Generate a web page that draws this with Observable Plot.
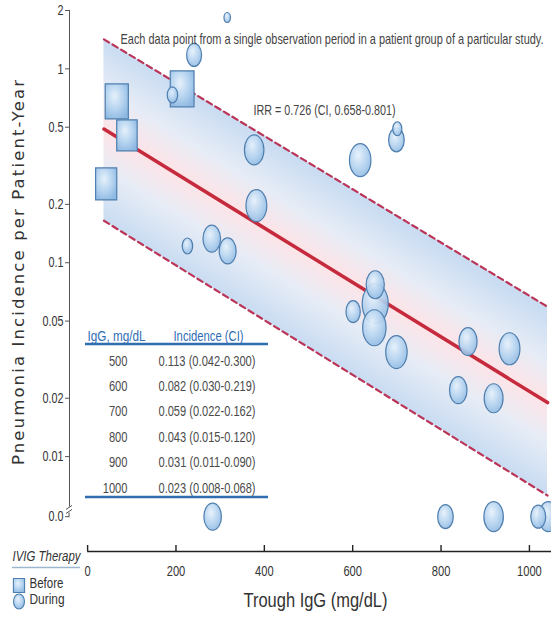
<!DOCTYPE html>
<html><head><meta charset="utf-8">
<script src="https://cdn.jsdelivr.net/npm/d3@7"></script>
<script src="https://cdn.jsdelivr.net/npm/@observablehq/plot@0.6"></script>
<style>
html,body{margin:0;padding:0;background:#fff;}
#chart{width:551px;height:622px;}
</style></head><body><div id="chart"></div>
<script>
// ---------------- data ----------------
// IVIG therapy: Before (squares)
const beforeIgG  = [66, 89, 42, 214];
const beforeRate = [0.68, 0.454, 0.255, 0.789];
const beforeSize = [35, 31, 32, 36];

// IVIG therapy: During (circles); rate 0 = no pneumonia observed
const duringIgG  = [316, 241, 192, 377, 382, 226, 281, 317, 617, 699, 701, 651, 651, 601, 649, 699, 861, 955, 839, 919, 283, 810, 919, 1043, 1020];
const duringRate = [1.84, 1.18, 0.734, 0.382, 0.197, 0.122, 0.133, 0.115, 0.338, 0.43, 0.491, 0.0615, 0.077, 0.0559, 0.0462, 0.0346, 0.0392, 0.036, 0.022, 0.02, 0, 0, 0, 0, 0];
const duringSize = [10, 23, 16, 30, 32, 16, 27, 26, 33, 24, 14, 40, 28, 22, 36, 33, 28, 32, 27, 29, 27, 24, 30, 30, 23];

// regression line with prediction band (ends)
const fitIgG   = [37, 1041];
const fitRate  = [0.489, 0.019];
const fitLower = [0.1646, 0.0063];
const fitUpper = [1.42, 0.0593];

// table
const tableIgG = ["500", "600", "700", "800", "900", "1000"];
const tableIncidence = ["0.113 (0.042-0.300)", "0.082 (0.030-0.219)", "0.059 (0.022-0.162)",
  "0.043 (0.015-0.120)", "0.031 (0.011-0.090)", "0.023 (0.008-0.068)"];

// axes
const xTicks = [0, 200, 400, 600, 800, 1000];
const yTicks = [2, 1, 0.5, 0.2, 0.1, 0.05, 0.02, 0.01, 0.0049];
const ZERO = 0.0049;      // plotting level for "0.0"
const xDomain = [-41, 1050];
const yDomain = [0.00324, 2];
const yBreak = 0.0055;

const annotText = "Each data point from a single observation period in a patient group of a particular study.";
const irrText = "IRR = 0.726 (CI, 0.658-0.801)";
const xTitle = "Trough IgG (mg/dL)";
const yTitle = "Pneumonia Incidence per Patient-Year";
// --------------------------------------

const yv = r => r === 0 ? ZERO : r;
const before = beforeIgG.map((x, i) => ({igg: x, rate: yv(beforeRate[i]), r: beforeSize[i] / 2}));
const during = duringIgG.map((x, i) => ({igg: x, rate: yv(duringRate[i]), r: duringSize[i] / 2}));
const fit = fitIgG.map((x, i) => ({igg: x, fit: fitRate[i], lo: fitLower[i], hi: fitUpper[i]}));

function ellipse(ratio) {
  return {draw(ctx, size) {
    const ry = Math.sqrt(size / Math.PI), rx = ry * ratio, k = 0.5523;
    ctx.moveTo(rx, 0);
    ctx.bezierCurveTo(rx, k * ry, k * rx, ry, 0, ry);
    ctx.bezierCurveTo(-k * rx, ry, -rx, k * ry, -rx, 0);
    ctx.bezierCurveTo(-rx, -k * ry, -k * rx, -ry, 0, -ry);
    ctx.bezierCurveTo(k * rx, -ry, rx, -k * ry, rx, 0);
    ctx.closePath();
  }};
}
function rect(ratio) {
  return {draw(ctx, size) {
    const h = Math.sqrt(size / Math.PI), w = h * ratio;
    ctx.moveTo(-w, -h); ctx.lineTo(w, -h); ctx.lineTo(w, h); ctx.lineTo(-w, h); ctx.closePath();
  }};
}

const FONT = '"Liberation Sans", Arial, sans-serif';
const bubbleStroke = "#4f7fae";

const plot = Plot.plot({
  width: 551, height: 622,
  marginTop: 10, marginBottom: 71, marginLeft: 69, marginRight: 0,
  style: {fontFamily: FONT, fontSize: "14px", color: "#333", background: "#fff", overflow: "visible"},
  x: {domain: xDomain},
  y: {type: "log", domain: yDomain},
  r: {type: "identity"},
  marks: [
    Plot.areaY(fit, {x: "igg", y1: "lo", y2: "hi", fill: "url(#bandGrad)"}),
    Plot.line(fit, {x: "igg", y: "hi", stroke: "#bb3558", strokeWidth: 2.2, strokeDasharray: "6,4"}),
    Plot.line(fit, {x: "igg", y: "lo", stroke: "#bb3558", strokeWidth: 2.2, strokeDasharray: "6,4"}),
    Plot.line(fit, {x: "igg", y: "fit", stroke: "#c62a3d", strokeWidth: 3.5}),
    Plot.dot(before, {x: "igg", y: "rate", r: "r", symbol: rect(0.66), fill: "url(#bubbleGrad)", stroke: bubbleStroke, strokeWidth: 1.2}),
    Plot.dot(during, {x: "igg", y: "rate", r: "r", symbol: ellipse(0.65), fill: "url(#bubbleGrad)", fillOpacity: 0.92, stroke: bubbleStroke, strokeWidth: 1.2}),

    // axes
    Plot.ruleX([xDomain[0]], {y1: yBreak, y2: yDomain[1], stroke: "#555"}),
    Plot.axisY(yTicks, {tickFormat: d => d === ZERO ? "0.0" : String(d), tickSize: 4, tickPadding: 2, label: null, fontSize: 14.5, fill: "#333", stroke: "#555"}),
    Plot.ruleY([yDomain[0]], {x1: 0, x2: xDomain[1], stroke: "#222", strokeWidth: 1.6}),
    Plot.axisX(xTicks, {tickFormat: d => String(d), tickSize: -6, tickPadding: 20, label: null, fontSize: 15, fill: "#333", stroke: "#222", strokeWidth: 1.4}),
    Plot.text([xTitle], {frameAnchor: "bottom", dx: 5, dy: 55, textAnchor: "middle", fontSize: 20, fill: "#333"}),
    Plot.text([yTitle], {frameAnchor: "left", dx: -51, dy: -8.5, rotate: -90, textAnchor: "middle", fontFamily: "DejaVu Sans", fontSize: 16.5, fill: "#333", ariaLabel: "ytitle"}),

    // annotations
    Plot.text([annotText], {frameAnchor: "top-left", dx: 51, dy: 23, textAnchor: "start", fontSize: 14.5, fill: "#444"}),
    Plot.text([irrText], {frameAnchor: "top-left", dx: 184, dy: 94, textAnchor: "start", fontSize: 15, fill: "#444"}),

    // table
    Plot.text(["IgG, mg/dL"], {frameAnchor: "top-left", dx: 47, dy: 320, textAnchor: "middle", fontSize: 15, fill: "#2d6cb2"}),
    Plot.text(["Incidence (CI)"], {frameAnchor: "top-left", dx: 139, dy: 320, textAnchor: "middle", fontSize: 15, fill: "#2d6cb2"}),
    Plot.text([tableIgG.join("\n")], {frameAnchor: "top-left", dx: 58, dy: 410.5, textAnchor: "end", lineAnchor: "middle", lineHeight: 25.4 / 15, fontSize: 15, fill: "#4a4a4a"}),
    Plot.text([tableIncidence.join("\n")], {frameAnchor: "top-left", dx: 137.5, dy: 410.5, textAnchor: "middle", lineAnchor: "middle", lineHeight: 25.4 / 15, fontSize: 15, fill: "#4a4a4a"}),

    // legend
    Plot.text(["IVIG Therapy"], {frameAnchor: "bottom-left", dx: -57, dy: 9, textAnchor: "start", fontStyle: "italic", fontSize: 15, fill: "#333"}),
    Plot.dot([0], {frameAnchor: "bottom-left", dx: -50.5, dy: 34, r: 7, symbol: rect(0.8), fill: "url(#bubbleGrad)", stroke: bubbleStroke, strokeWidth: 1.1}),
    Plot.dot([0], {frameAnchor: "bottom-left", dx: -50.5, dy: 50, r: 7.5, symbol: ellipse(0.73), fill: "url(#bubbleGrad)", stroke: bubbleStroke, strokeWidth: 1.1}),
    Plot.text(["Before"], {frameAnchor: "bottom-left", dx: -40, dy: 36, textAnchor: "start", fontSize: 15.5, fill: "#333"}),
    Plot.text(["During"], {frameAnchor: "bottom-left", dx: -40, dy: 52.5, textAnchor: "start", fontSize: 15.5, fill: "#333"})
  ]
});

document.getElementById("chart").appendChild(plot);

// ---- decorations: gradients, table rules, legend rule, axis break ----
const svg = d3.select(plot);
const sx = plot.scale("x"), sy = plot.scale("y");
const X = v => sx.apply(v), Y = v => sy.apply(v);

const defs = svg.insert("defs", ":first-child");
const p0 = [X(fitIgG[0]), Y(fitRate[0])], p1 = [X(fitIgG[1]), Y(fitRate[1])];
const len = Math.hypot(p1[0] - p0[0], p1[1] - p0[1]);
const dir = [(p1[0] - p0[0]) / len, (p1[1] - p0[1]) / len];
const n = [dir[1], -dir[0]];
const up = [X(fitIgG[0]), Y(fitUpper[0])], lo = [X(fitIgG[0]), Y(fitLower[0])];
const dU = (up[0] - p0[0]) * n[0] + (up[1] - p0[1]) * n[1];
const dL = (lo[0] - p0[0]) * n[0] + (lo[1] - p0[1]) * n[1];
const mid = [(p0[0] + p1[0]) / 2, (p0[1] + p1[1]) / 2];
const off = dU / (dU - dL);
const bg = defs.append("linearGradient").attr("id", "bandGrad").attr("gradientUnits", "userSpaceOnUse")
  .attr("x1", mid[0] + dU * n[0]).attr("y1", mid[1] + dU * n[1])
  .attr("x2", mid[0] + dL * n[0]).attr("y2", mid[1] + dL * n[1]);
[[0, "#c9dcf2"], [off * 0.55, "#e6ecf6"], [off, "#fde4e7"], [off + (1 - off) * 0.45, "#e6ecf6"], [1, "#c9dcf2"]]
  .forEach(([o, c]) => bg.append("stop").attr("offset", o).attr("stop-color", c));

const rg = defs.append("radialGradient").attr("id", "bubbleGrad")
  .attr("cx", 0.42).attr("cy", 0.38).attr("r", 0.68).attr("fx", 0.4).attr("fy", 0.34);
[[0, "#e6f1fb"], [0.55, "#b6d4f0"], [1, "#8fb9e2"]]
  .forEach(([o, c]) => rg.append("stop").attr("offset", o).attr("stop-color", c));

const deco = svg.append("g");
deco.append("line").attr("x1", 85).attr("x2", 268).attr("y1", 344).attr("y2", 344).attr("stroke", "#2f6db0").attr("stroke-width", 2.5);
deco.append("line").attr("x1", 85).attr("x2", 268).attr("y1", 497).attr("y2", 497).attr("stroke", "#2f6db0").attr("stroke-width", 2.5);
deco.append("line").attr("x1", 12).attr("x2", 80).attr("y1", 567.5).attr("y2", 567.5).attr("stroke", "#9db6cf").attr("stroke-width", 1.5);
const ax = X(xDomain[0]), yb = Y(yBreak);
deco.append("path").attr("fill", "none").attr("stroke", "#555").attr("stroke-width", 1)
  .attr("d", `M${ax - 3},${yb + 3}L${ax + 3},${yb - 1}M${ax - 3},${yb + 7}L${ax + 3},${yb + 3}M${ax},${yb + 6}L${ax},${Y(ZERO) + 1}`);

// ---- condense text to mimic the narrow typeface of the original ----
const targetWidths = new Map([
  [annotText, 423], [irrText, 142], [xTitle, 144], [yTitle, 385],
  ["IgG, mg/dL", 58], ["Incidence (CI)", 70], ["IVIG Therapy", 68], ["Before", 34], ["During", 35]
]);
tableIncidence.forEach(t => targetWidths.set(t, 97));
const rowNatural = (() => {
  const t = svg.append("text").attr("font-size", 15).attr("font-family", FONT).text(tableIncidence[0]);
  const w = t.node().getComputedTextLength(); t.remove(); return w;
})();
const factor = 97 / rowNatural;
function condense(el) {
  const txt = el.textContent;
  const L = el.getComputedTextLength();
  if (!L) return;
  const target = targetWidths.has(txt) ? targetWidths.get(txt) : L * factor;
  el.setAttribute("textLength", target.toFixed(2));
  el.setAttribute("lengthAdjust", txt === yTitle ? "spacing" : "spacingAndGlyphs");
}
svg.selectAll("text").each(function() {
  const spans = this.querySelectorAll("tspan");
  if (spans.length) spans.forEach(condense); else condense(this);
});
</script></body></html>
